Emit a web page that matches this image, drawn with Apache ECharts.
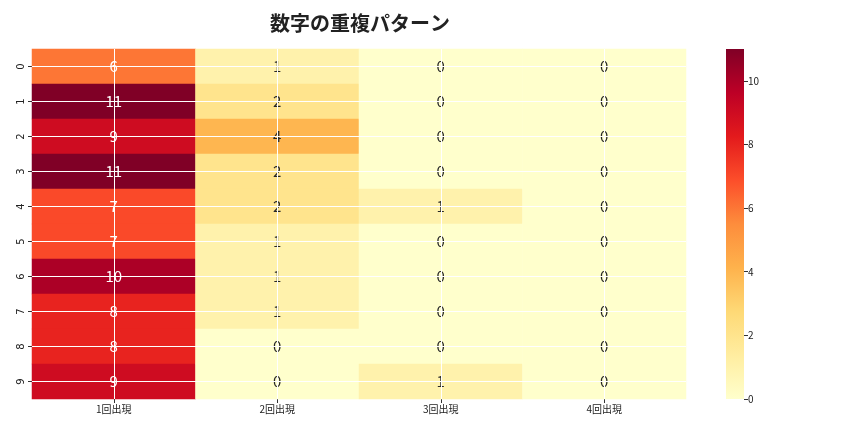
<!DOCTYPE html>
<html><head><meta charset="utf-8">
<script src="https://cdn.jsdelivr.net/npm/echarts@6/dist/echarts.min.js"></script>
<style>html,body{margin:0;padding:0;background:#fff}#c{width:864px;height:432px}</style>
</head><body><div id="c"></div>
<script>
const columns = ['1回出現','2回出現','3回出現','4回出現'];
const rows = ['0','1','2','3','4','5','6','7','8','9'];
const col1 = [6,11,9,11,7,7,10,8,8,9];
const col2 = [1,2,4,2,2,1,1,1,0,0];
const col3 = [0,0,0,0,1,0,0,0,0,1];
const col4 = [0,0,0,0,0,0,0,0,0,0];
const colorbarTicks = [0,2,4,6,8,10];
const vmin = 0, vmax = 11;
const titleText = '数字の重複パターン';
const palette = ['#ffffcc','#ffeda0','#fed976','#feb24c','#fd8d3c','#fc4e2a','#e31a1c','#bd0026','#800026'];

const cols = [col1,col2,col3,col4];
const data = [];
cols.forEach((c,ci)=>c.forEach((v,ri)=>{
  data.push({value:[ci,ri,v], label:{color: v>=5 ? '#ffffff' : '#262626'}});
}));
const font = '"DejaVu Sans","Noto Sans CJK JP",sans-serif';
const cjk = '"Noto Sans CJK JP",sans-serif';
const gradStops = palette.map((c,i)=>({offset:1-i/(palette.length-1),color:c}));
const chart = echarts.init(document.getElementById('c'));
chart.setOption({
  animation:false,
  title:{text:titleText,left:355,top:8,textAlign:'center',
    textStyle:{fontSize:20,fontWeight:'bold',color:'#222',fontFamily:cjk}},
  grid:[{left:32,right:178,top:49,bottom:33},
        {left:726,width:18,top:49,bottom:33}],
  xAxis:[{type:'category',data:columns,gridIndex:0,
      axisLine:{show:false},axisTick:{show:true,alignWithLabel:true,length:4,lineStyle:{color:'#333'}},
      axisLabel:{fontSize:10,color:'#222',fontFamily:cjk,margin:5},splitLine:{show:false}},
    {type:'category',gridIndex:1,data:['cb'],show:false}],
  yAxis:[{type:'category',data:rows,inverse:true,gridIndex:0,
      axisLine:{show:false},axisTick:{show:true,alignWithLabel:true,length:4,lineStyle:{color:'#333'}},
      axisLabel:{fontSize:10,color:'#222',rotate:90,fontFamily:font,margin:6},splitLine:{show:false}},
    {type:'value',gridIndex:1,position:'right',min:vmin,max:vmax,interval:2,
      axisLine:{show:false},
      axisTick:{show:true,length:4,lineStyle:{color:'#333'}},
      axisLabel:{fontSize:10,color:'#222',margin:4,fontFamily:cjk,showMaxLabel:false,
        formatter:v=>colorbarTicks.includes(v)?String(v):''},
      splitLine:{show:false}}],
  visualMap:{type:'continuous',min:vmin,max:vmax,show:false,seriesIndex:0,
    inRange:{color:palette}},
  series:[{type:'heatmap',data:data,xAxisIndex:0,yAxisIndex:0,z:2,
      label:{show:true,fontSize:15,fontFamily:cjk,textBorderWidth:0,formatter:p=>p.value[2]},
      itemStyle:{borderWidth:0},emphasis:{disabled:true}},
    {type:'line',data:[],xAxisIndex:0,yAxisIndex:0,z:5,
      markLine:{silent:true,symbol:'none',animation:false,
        lineStyle:{color:'#ffffff',width:1,type:'solid'},label:{show:false},
        data:columns.map(c=>({xAxis:c})).concat(rows.map(r=>({yAxis:r})))}},
    {type:'bar',xAxisIndex:1,yAxisIndex:1,data:[vmax],barWidth:'100%',silent:true,
      itemStyle:{color:new echarts.graphic.LinearGradient(0,0,0,1,gradStops)}}]
});
</script></body></html>
